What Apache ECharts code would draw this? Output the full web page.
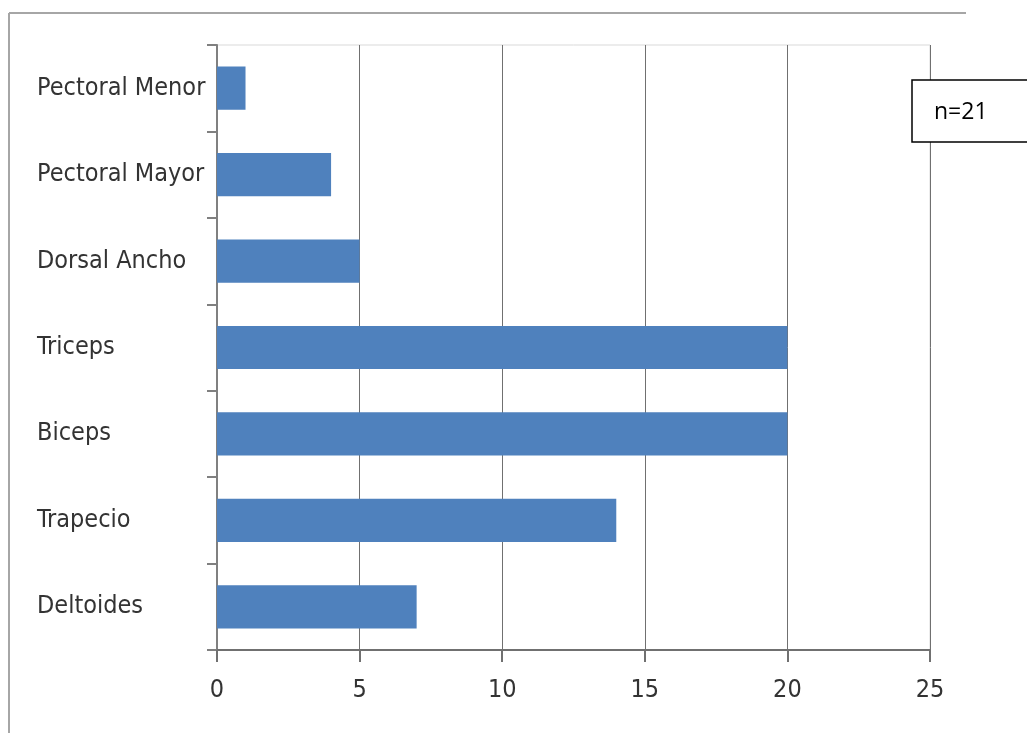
<!DOCTYPE html>
<html><head><meta charset="utf-8">
<script src="https://cdn.jsdelivr.net/npm/echarts@6/dist/echarts.min.js"></script>
<style>html,body{margin:0;padding:0;background:#fff}#c{width:1027px;height:733px}</style>
</head><body><div id="c"></div>
<script>
const categories = ["Pectoral Menor","Pectoral Mayor","Dorsal Ancho","Triceps","Biceps","Trapecio","Deltoides"];
const values = [1,4,5,20,20,14,7];
const xTicks = [0,5,10,15,20,25];
const noteText = "n=21";

const font = "'Liberation Sans Narrow','DejaVu Sans Condensed',sans-serif";
const chart = echarts.init(document.getElementById('c'), null, {renderer:'canvas'});
chart.setOption({
  animation:false,
  grid:{left:217,right:97,top:45,bottom:83,show:true,borderColor:'#d9d9d9',borderWidth:1},
  xAxis:{type:'value',min:xTicks[0],max:xTicks[xTicks.length-1],interval:5,
    axisLine:{show:true,lineStyle:{color:'#707070',width:2}},
    axisTick:{show:true,length:12,lineStyle:{color:'#707070',width:2}},
    axisLabel:{color:'#333',fontFamily:font,fontSize:25,margin:28},
    splitLine:{show:true,lineStyle:{color:'#707070',width:1}}},
  yAxis:{type:'category',data:categories,inverse:true,
    axisLine:{show:true,lineStyle:{color:'#808080',width:2}},
    axisTick:{show:true,length:10,lineStyle:{color:'#808080',width:2}},
    axisLabel:{color:'#333',fontFamily:font,fontSize:25,align:'left',margin:180,padding:[6,0,0,0]}},
  series:[{type:'bar',data:values,barCategoryGap:'50%',itemStyle:{color:'#4F81BD'}}],
  graphic:[
    {type:'line',shape:{x1:9,y1:13,x2:966,y2:13},style:{stroke:'#a6a6a6',lineWidth:2}},
    {type:'line',shape:{x1:9,y1:13,x2:9,y2:733},style:{stroke:'#a6a6a6',lineWidth:2}},
    {type:'rect',shape:{x:912,y:80,width:120,height:62},style:{fill:'#fff',stroke:'#000',lineWidth:1.5},z:100},
    {type:'text',x:934,y:112,style:{text:noteText,fontFamily:"'Open Sans',sans-serif",fontSize:23,fill:'#000',textVerticalAlign:'middle'},z:101}
  ]
});
</script></body></html>
